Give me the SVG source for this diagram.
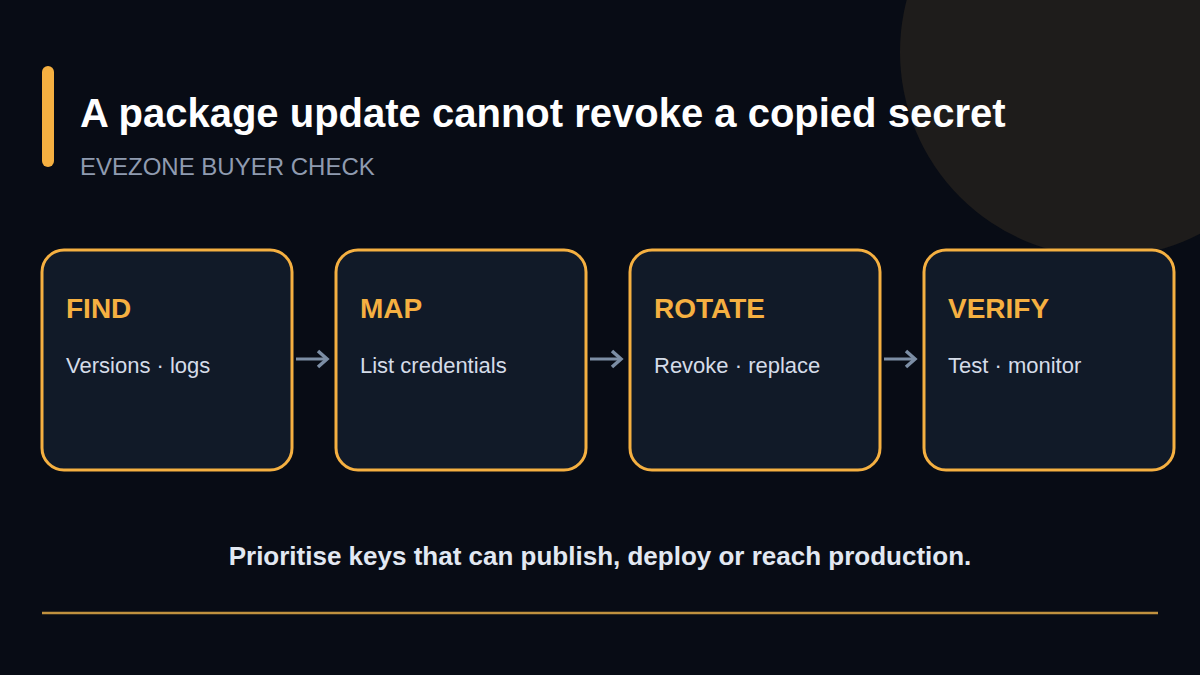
<svg xmlns="http://www.w3.org/2000/svg" width="1200" height="675" viewBox="0 0 1200 675">
<defs>
<style>
.bg{fill:#080c15}
.node rect{fill:#111a28;stroke:#f5b041;stroke-width:3}
.ttl{font-family:"Liberation Sans",Arial,sans-serif;font-weight:700;font-size:28px;fill:#f5b041}
.body{font-family:"Liberation Sans",Arial,sans-serif;font-size:22px;fill:#d5dce8}
.conn line{stroke:#7c8ea5;stroke-width:3}
.conn path{fill:none;stroke:#7c8ea5;stroke-width:3.5}
</style>
</defs>
<rect class="bg" x="0" y="0" width="1200" height="675"/>
<circle cx="1105" cy="52" r="205" fill="#1e1c1b"/>
<rect x="42" y="66" width="12" height="101" rx="6" fill="#f5b041"/>
<text x="80" y="127" font-family="'Liberation Sans',Arial,sans-serif" font-weight="700" font-size="40" fill="#ffffff">A package update cannot revoke a copied secret</text>
<text x="80" y="175" font-family="'Liberation Sans',Arial,sans-serif" font-size="24" fill="#8f9bb0">EVEZONE BUYER CHECK</text>
<g id="node-find" class="node">
<rect x="42" y="250" width="250" height="220" rx="22"/>
<text class="ttl" x="66" y="318">FIND</text>
<text class="body" x="66" y="373">Versions · logs</text>
</g>
<g id="node-map" class="node">
<rect x="336" y="250" width="250" height="220" rx="22"/>
<text class="ttl" x="360" y="318">MAP</text>
<text class="body" x="360" y="373">List credentials</text>
</g>
<g id="node-rotate" class="node">
<rect x="630" y="250" width="250" height="220" rx="22"/>
<text class="ttl" x="654" y="318">ROTATE</text>
<text class="body" x="654" y="373">Revoke · replace</text>
</g>
<g id="node-verify" class="node">
<rect x="924" y="250" width="250" height="220" rx="22"/>
<text class="ttl" x="948" y="318">VERIFY</text>
<text class="body" x="948" y="373">Test · monitor</text>
</g>
<g id="connectors" class="conn">
<line x1="296" y1="359" x2="327" y2="359"/><path d="M318 351 L327 359 L318 367"/>
<line x1="590" y1="359" x2="621" y2="359"/><path d="M612 351 L621 359 L612 367"/>
<line x1="884" y1="359" x2="915" y2="359"/><path d="M906 351 L915 359 L906 367"/>
</g>
<text x="600" y="565" text-anchor="middle" font-family="'Liberation Sans',Arial,sans-serif" font-weight="700" font-size="26" fill="#e2e8f2">Prioritise keys that can publish, deploy or reach production.</text>
<line x1="42" y1="613" x2="1158" y2="613" stroke="#c0913f" stroke-width="2.5"/>
</svg>
